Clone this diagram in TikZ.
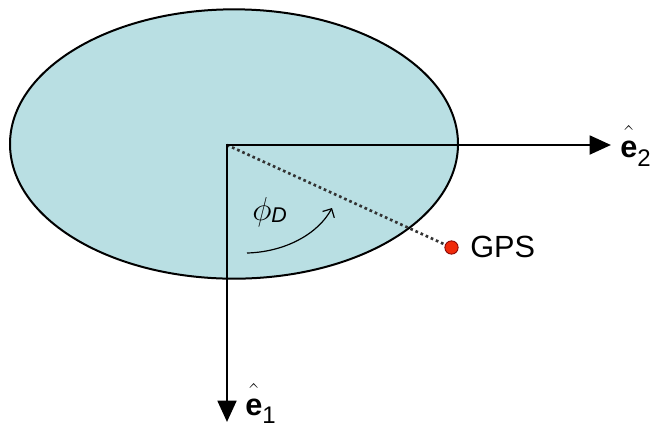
\documentclass[tikz,border=0pt]{standalone}
\usepackage{fontspec}
\setmainfont{Liberation Sans}
\usetikzlibrary{arrows.meta,shapes.geometric}
\definecolor{disk}{HTML}{B9DFE3}
\definecolor{gpsred}{HTML}{F02A0A}

\begin{document}
\begin{tikzpicture}[x=0.75pt,y=-0.75pt,
  axis/.style={line width=2.2pt,{Triangle[length=16pt,width=14pt]}-{Triangle[length=16pt,width=14pt]}},
  lab/.style={font=\fontsize{23}{26}\selectfont,anchor=base west,inner sep=0pt}]
\useasboundingbox (0,0) rectangle (660,426);
\node[ellipse,draw,line width=1.5pt,fill=disk,minimum width=336pt,minimum height=202pt,inner sep=0pt] (body) at (234,144) {};
\coordinate (O) at (227,145);
\coordinate (E1) at (227,422);
\coordinate (E2) at (611,145);
\node[circle,fill=gpsred,draw=red!50!black,line width=0.6pt,minimum size=10pt,inner sep=0pt] (gps) at (451.5,247.5) {};
\draw[line width=2pt,dash pattern=on 2pt off 2.2pt,black!80] (O) -- (gps);
\draw[axis] (E1) -- (O) -- (E2);
\coordinate (a0) at (247,253);
\coordinate (a1) at (332,208);
\draw[line width=0.9pt,-{Straight Barb[length=5pt,width=10pt]}] (a0) .. controls (285,252) and (318,234) .. (a1);
\node[lab] (e2) at (620,157) {$\hat{\vphantom{l}\textbf{e}}$\raisebox{-7pt}{\fontsize{18}{20}\selectfont 2}};
\node[lab] (e1) at (245,415) {$\hat{\vphantom{l}\textbf{e}}$\raisebox{-6pt}{\fontsize{18}{20}\selectfont 1}};
\node[lab] (gpslab) at (470,257) {GPS};
\node[lab] (phi) at (252,220) {\fontsize{29}{31}\selectfont$\phi$\raisebox{-1.5pt}{\fontsize{16}{18}\selectfont\textit{D}}};
\end{tikzpicture}
\end{document}
